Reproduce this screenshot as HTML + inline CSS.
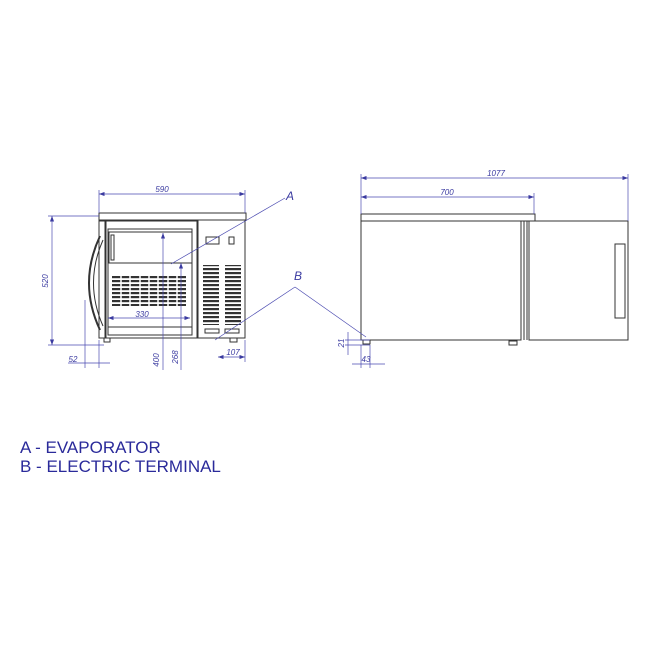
<!DOCTYPE html>
<html><head><style>body{margin:0;background:#fff}svg{display:block}</style></head><body>
<svg width="658" height="658" viewBox="0 0 658 658" xmlns="http://www.w3.org/2000/svg" font-family="Liberation Sans, sans-serif">
<defs>
<marker id="ar" markerWidth="8" markerHeight="6" refX="8" refY="3" orient="auto-start-reverse"><path d="M0,0 L8,3 L0,6 z" fill="#3a3aa0"/></marker>
<pattern id="sl" width="6" height="4" patternUnits="userSpaceOnUse"><rect width="6" height="2.2" fill="#333"/></pattern>
</defs>
<g fill="none" stroke="#333" stroke-width="1">
<!-- front view -->
<rect x="99" y="213" width="147" height="7"/>
<rect x="99" y="220" width="146" height="118"/>
<rect x="99" y="221" width="6" height="117"/>
<rect x="106" y="221" width="91" height="117"/>
<rect x="108" y="229" width="84" height="106"/>
<line x1="198" y1="220" x2="198" y2="338"/>
<rect x="109" y="232" width="83" height="31"/>
<rect x="111" y="235" width="3" height="25"/>
<path d="M100 236 Q78 283 100 330" stroke-width="2"/>
<path d="M103 240 Q84 283 103 326"/>
<line x1="108" y1="327" x2="192" y2="327"/>
<rect x="206" y="237" width="13" height="7"/>
<rect x="229" y="237" width="5" height="7"/>
<rect x="205" y="329" width="14" height="4"/><rect x="225" y="329" width="14" height="4"/>
<rect x="104" y="338" width="6" height="4"/><rect x="230" y="338" width="7" height="4"/>
</g>
<rect x="112" y="276" width="74" height="30" fill="url(#sl)"/>
<g stroke="#fff" stroke-width="1.5"><line x1="121" y1="276" x2="121" y2="306"/><line x1="130" y1="276" x2="130" y2="306"/><line x1="140" y1="276" x2="140" y2="306"/><line x1="149" y1="276" x2="149" y2="306"/><line x1="158" y1="276" x2="158" y2="306"/><line x1="168" y1="276" x2="168" y2="306"/><line x1="177" y1="276" x2="177" y2="306"/></g>
<rect x="203" y="265" width="16" height="60" fill="url(#sl)"/>
<rect x="225" y="265" width="16" height="60" fill="url(#sl)"/>
<!-- side view -->
<g fill="none" stroke="#333" stroke-width="1">
<rect x="361" y="214" width="174" height="7"/>
<rect x="361" y="221" width="160" height="119"/>
<line x1="524" y1="221" x2="524" y2="340"/><line x1="527" y1="221" x2="527" y2="340"/>
<rect x="529" y="221" width="99" height="119"/>
<rect x="615" y="244" width="10" height="74"/>
<rect x="363" y="340" width="7" height="4"/><rect x="509" y="341" width="8" height="4"/>
</g>
<!-- dimensions -->
<g stroke="#4a4ab0" stroke-width="0.7" fill="none">
<line x1="99" y1="194" x2="245" y2="194" marker-start="url(#ar)" marker-end="url(#ar)"/>
<line x1="99" y1="190" x2="99" y2="213"/><line x1="245" y1="190" x2="245" y2="213"/>
<line x1="52" y1="216" x2="52" y2="345" marker-start="url(#ar)" marker-end="url(#ar)"/>
<line x1="48" y1="216" x2="99" y2="216"/><line x1="48" y1="345" x2="104" y2="345"/>
<line x1="108" y1="318" x2="190" y2="318" marker-start="url(#ar)" marker-end="url(#ar)"/>
<line x1="163" y1="233" x2="163" y2="370" marker-start="url(#ar)"/>
<line x1="181" y1="263" x2="181" y2="370" marker-start="url(#ar)"/>
<line x1="68" y1="363" x2="110" y2="363"/><line x1="85" y1="300" x2="85" y2="368"/><line x1="99" y1="340" x2="99" y2="368"/>
<line x1="218" y1="357" x2="245" y2="357" marker-start="url(#ar)" marker-end="url(#ar)"/>
<line x1="245" y1="340" x2="245" y2="362"/>
<line x1="361" y1="178" x2="628" y2="178" marker-start="url(#ar)" marker-end="url(#ar)"/>
<line x1="628" y1="174" x2="628" y2="221"/>
<line x1="361" y1="197" x2="534" y2="197" marker-start="url(#ar)" marker-end="url(#ar)"/>
<line x1="361" y1="174" x2="361" y2="214"/><line x1="534" y1="193" x2="534" y2="214"/>
<line x1="345" y1="340" x2="370" y2="340"/><line x1="345" y1="345" x2="370" y2="345"/>
<line x1="348" y1="332" x2="348" y2="355"/>
<line x1="352" y1="364" x2="385" y2="364"/><line x1="361" y1="345" x2="361" y2="368"/><line x1="370" y1="345" x2="370" y2="368"/>
<line x1="285" y1="198" x2="171" y2="264"/>
<line x1="295" y1="287" x2="215" y2="340"/>
<line x1="295" y1="287" x2="366" y2="337"/>
</g>
<g fill="#3a3aa0" font-size="8" font-style="italic">
<text x="162" y="192" text-anchor="middle">590</text>
<text x="142" y="317" text-anchor="middle">330</text>
<text x="48" y="281" transform="rotate(-90 48 281)" text-anchor="middle">520</text>
<text x="159" y="360" transform="rotate(-90 159 360)" text-anchor="middle">400</text>
<text x="178" y="357" transform="rotate(-90 178 357)" text-anchor="middle">268</text>
<text x="73" y="362" text-anchor="middle">52</text>
<text x="233" y="355" text-anchor="middle">107</text>
<text x="496" y="176" text-anchor="middle">1077</text>
<text x="447" y="195" text-anchor="middle">700</text>
<text x="344" y="343" transform="rotate(-90 344 343)" text-anchor="middle">21</text>
<text x="366" y="362" text-anchor="middle">43</text>
<text x="290" y="200" font-size="12" text-anchor="middle">A</text>
<text x="298" y="280" font-size="12" text-anchor="middle">B</text>
</g>
<g fill="#2a2a9a" font-size="17">
<text x="20" y="453">A - EVAPORATOR</text>
<text x="20" y="472">B - ELECTRIC TERMINAL</text>
</g>
</svg>
</body></html>
